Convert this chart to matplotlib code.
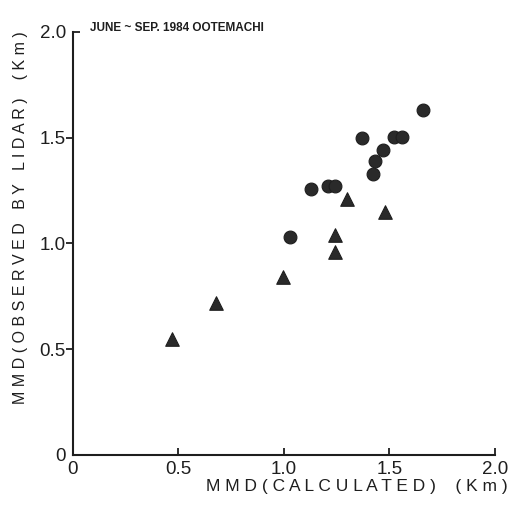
import matplotlib
matplotlib.use('Agg')
import matplotlib.pyplot as plt

# circles
circ_x = [1.66, 1.37, 1.52, 1.56, 1.47, 1.43, 1.42, 1.13, 1.21, 1.24, 1.03]
circ_y = [1.63, 1.50, 1.505, 1.505, 1.44, 1.39, 1.33, 1.26, 1.27, 1.27, 1.03]
# triangles
tri_x = [1.30, 1.48, 1.24, 1.24, 0.995, 0.68, 0.47]
tri_y = [1.21, 1.15, 1.04, 0.96, 0.84, 0.72, 0.55]

x_ticks = [0, 0.5, 1.0, 1.5, 2.0]
x_tick_labels = ['0', '0.5', '1.0', '1.5', '2.0']
y_ticks = [0.5, 1.0, 1.5]
y_tick_labels = ['0.5', '1.0', '1.5']

plt.rcParams['font.family'] = ['Liberation Sans', 'DejaVu Sans']
ink = '#1e1e1e'

fig = plt.figure(figsize=(5.21, 5.11), dpi=100)
ax = fig.add_axes([0.140, 0.1096, 0.810, 0.8278])

ax.scatter(circ_x, circ_y, s=85, marker='o', color='#2a2a2a', edgecolors=ink, linewidths=0.8, zorder=3)
ax.scatter(tri_x, tri_y, s=95, marker='^', color='#2a2a2a', edgecolors=ink, linewidths=0.8, zorder=3)

ax.set_xlim(0, 2.0)
ax.set_ylim(0, 2.0)
for s in ['top', 'right']:
    ax.spines[s].set_visible(False)
for s in ['left', 'bottom']:
    ax.spines[s].set_linewidth(1.5)
    ax.spines[s].set_color(ink)

ax.set_xticks(x_ticks)
ax.set_xticklabels(x_tick_labels)
ax.tick_params(axis='x', direction='in', length=5, width=1.3, color=ink,
               labelsize=13.5, pad=4, labelcolor=ink)

ax.set_yticks(y_ticks)
ax.set_yticklabels(y_tick_labels)
ax.set_yticks([0, 2.0], minor=True)
ax.set_yticklabels(['0', '2.0'], minor=True)
ax.tick_params(axis='y', which='major', direction='out', length=5, width=1.3,
               color=ink, labelsize=13.5, pad=0.5, labelcolor=ink)
ax.tick_params(axis='y', which='minor', direction='in', length=5, width=1.3,
               color=ink, labelsize=13.5, pad=5, labelcolor=ink)

ax.set_xlabel('M M D ( C A L C U L A T E D )    ( K m )', fontsize=12.5, color=ink,
              ha='right', x=1.03, labelpad=1)
ax.set_ylabel('M M D ( O B S E R V E D   B Y   L I D A R )    ( K m )', fontsize=11.5,
              color=ink, y=0.56, labelpad=8)

fig.text(0.173, 0.945, 'JUNE ~ SEP. 1984 OOTEMACHI', fontsize=8.5, fontweight='bold',
         family=['Liberation Sans Narrow', 'Liberation Sans', 'DejaVu Sans'],
         color=ink, va='center', ha='left')

fig.savefig('out.png', dpi=100)
